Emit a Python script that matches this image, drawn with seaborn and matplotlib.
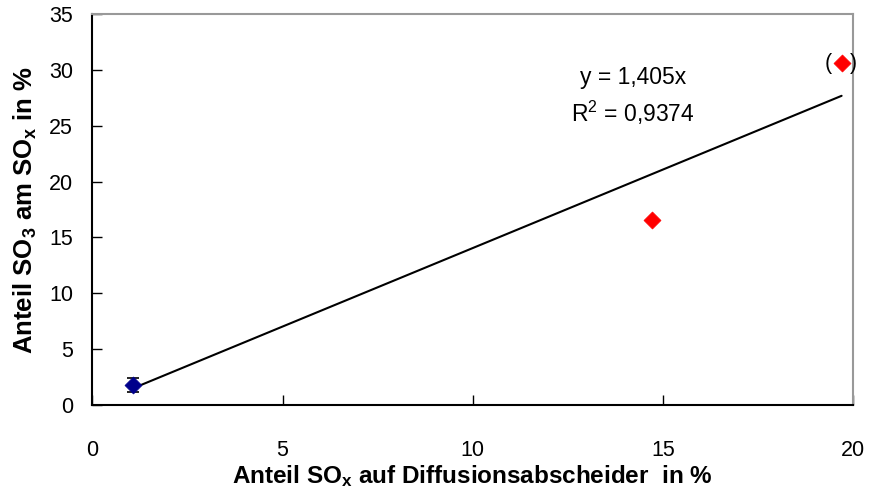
import numpy as np
import pandas as pd
import matplotlib
matplotlib.use("Agg")
import matplotlib.pyplot as plt
import seaborn as sns

# Measured shares (%)
x_blue = [1.07]
y_blue = [1.8]
err_blue = [0.6]

x_red = [14.72, 19.7]
y_red = [16.55, 30.6]

slope = 1.405
r_squared = "0,9374"
slope_label = "1,405"

x_ticks = [0, 5, 10, 15, 20]
y_ticks = [0, 5, 10, 15, 20, 25, 30, 35]

sns.set_theme(style="white")
plt.rcParams["font.family"] = ["Liberation Sans", "DejaVu Sans"]
plt.rcParams["text.color"] = "black"
plt.rcParams["axes.labelcolor"] = "black"
plt.rcParams["xtick.color"] = "black"
plt.rcParams["ytick.color"] = "black"
plt.rcParams["mathtext.fontset"] = "custom"
plt.rcParams["mathtext.rm"] = "Liberation Sans"
plt.rcParams["mathtext.it"] = "Liberation Sans:italic"
plt.rcParams["mathtext.bf"] = "Liberation Sans:bold"

fig = plt.figure(figsize=(8.69, 4.92), dpi=100)
ax = fig.add_axes([0.1064, 0.1768, 0.9816 - 0.1064, 0.9715 - 0.1768])

# Linear fit through the origin, spanning the measured x range
all_x = np.array(x_blue + x_red)
fit = pd.DataFrame({"x": [all_x.min(), all_x.max()]})
fit["y"] = slope * fit["x"]
sns.lineplot(data=fit, x="x", y="y", ax=ax, color="black", linewidth=1.5, zorder=2)

blue = pd.DataFrame({"x": x_blue, "y": y_blue})
red = pd.DataFrame({"x": x_red, "y": y_red})

ax.errorbar(x_blue, y_blue, yerr=err_blue, fmt="none", ecolor="black",
            elinewidth=1.2, capsize=4, capthick=1.2, zorder=3)
sns.scatterplot(data=blue, x="x", y="y", ax=ax, marker="D", s=75,
                color="#00008B", edgecolor="#00008B", linewidth=0.5, zorder=4)
sns.scatterplot(data=red, x="x", y="y", ax=ax, marker="D", s=75,
                color="red", edgecolor="red", linewidth=0.5, zorder=4)

# Bracketed outlier
ax.text(x_red[1] - 0.34, y_red[1], "(", ha="center", va="center", fontsize=15.5)
ax.text(x_red[1] + 0.32, y_red[1], ")", ha="center", va="center", fontsize=15.5)

ax.text(14.22, 27.6, f"y = {slope_label}x\nR$^2$ = {r_squared}", ha="center",
        va="center", fontsize=16.5, linespacing=1.45, multialignment="center")

ax.set_xlim(0, 20)
ax.set_ylim(0, 35)
ax.set_xticks(x_ticks)
ax.set_yticks(y_ticks)
ax.set_xticklabels([str(t) for t in x_ticks])
ax.set_yticklabels([str(t) for t in y_ticks])

ax.tick_params(axis="x", direction="in", length=7, width=1, color="black",
               pad=25, labelsize=15.5, bottom=True)
ax.tick_params(axis="y", direction="in", length=7, width=1, color="black",
               pad=14, labelsize=15.5, left=True)

for side in ["left", "bottom"]:
    ax.spines[side].set_color("black")
    ax.spines[side].set_linewidth(1.5)
for side in ["top", "right"]:
    ax.spines[side].set_color("#999999")
    ax.spines[side].set_linewidth(1.5)

ax.set_xlabel(r"Anteil SO$_\mathbf{x}$ auf Diffusionsabscheider  in %",
              fontsize=17.5, fontweight="bold", labelpad=2)
ax.set_ylabel(r"Anteil SO$_\mathbf{3}$ am SO$_\mathbf{x}$ in %",
              fontsize=18.5, fontweight="bold", labelpad=7)

fig.savefig("out.png", dpi=100)
